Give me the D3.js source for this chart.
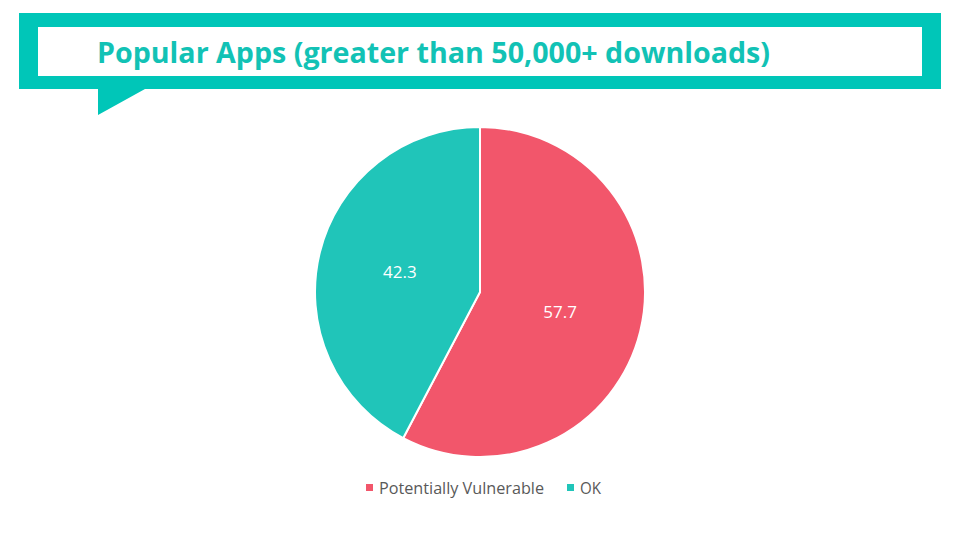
<!DOCTYPE html>
<html><head><meta charset="utf-8">
<script src="https://cdn.jsdelivr.net/npm/d3@7"></script>
<style>body{margin:0;background:#fff}svg{display:block}</style>
</head><body>
<svg id="c" width="960" height="540"></svg>
<script>
const title = "Popular Apps (greater than 50,000+ downloads)";
const categories = ["Potentially Vulnerable", "OK"];
const values = [57.7, 42.3];
const colors = ["#F2566B", "#20C5B9"];

const svg = d3.select("#c");
const teal = "#00C6B8";
// banner
svg.append("path")
  .attr("d", "M19,13 H941 V89 H145 L98,115 V89 H19 Z")
  .attr("fill", teal);
svg.append("rect").attr("x", 38).attr("y", 27).attr("width", 884).attr("height", 49).attr("fill", "#fff");
svg.append("text").attr("x", 97).attr("y", 63)
  .attr("font-family", "Open Sans, sans-serif").attr("font-weight", "bold")
  .attr("font-size", 28).attr("fill", "#12C2B5")
  .attr("textLength", 673).attr("lengthAdjust", "spacingAndGlyphs")
  .text(title);

// pie
const data = categories.map((c, i) => ({ c, v: values[i], col: colors[i] }));
const pie = d3.pie().value(d => d.v).sort(null);
const r = 165;
const arc = d3.arc().innerRadius(0).outerRadius(r);
const g = svg.append("g").attr("transform", "translate(480,292)");
const arcs = pie(data);
g.selectAll("path").data(arcs).join("path")
  .attr("d", arc).attr("fill", d => d.data.col)
  .attr("stroke", "#fff").attr("stroke-width", 2);
g.selectAll("text").data(arcs).join("text")
  .attr("transform", d => `translate(${arc.centroid(d)})`)
  .attr("text-anchor", "middle").attr("dy", "0.35em")
  .attr("font-family", "Open Sans, sans-serif").attr("font-size", 17)
  .attr("fill", "#fff").text(d => d.data.v.toFixed(1));

// legend
const legX = [366, 567];
const legW = [165, 21];
const leg = svg.append("g");
data.forEach((d, i) => {
  leg.append("rect").attr("x", legX[i]).attr("y", 484).attr("width", 7).attr("height", 7).attr("fill", d.col);
  leg.append("text").attr("x", legX[i] + 13).attr("y", 494)
    .attr("font-family", "Open Sans, sans-serif").attr("font-size", 16)
    .attr("textLength", legW[i]).attr("lengthAdjust", "spacingAndGlyphs")
    .attr("fill", "#595959").text(d.c);
});
</script>
</body></html>
